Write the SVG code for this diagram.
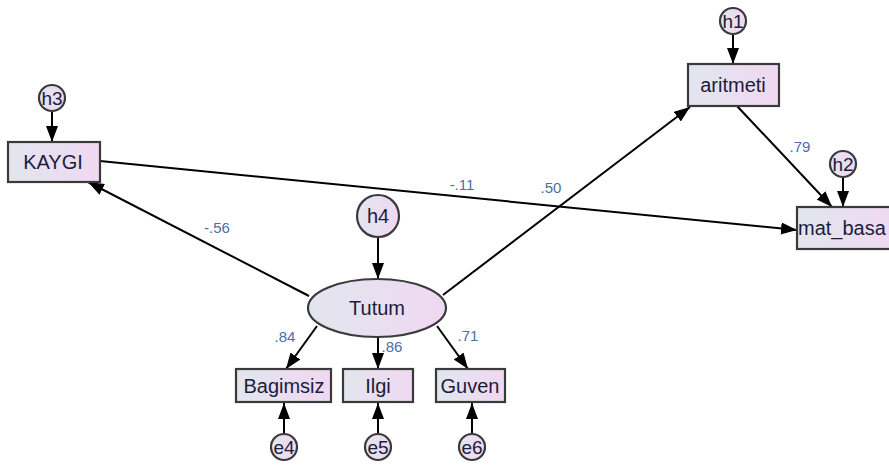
<svg xmlns="http://www.w3.org/2000/svg" width="889" height="466" viewBox="0 0 889 466">
<defs>
<linearGradient id="g" x1="0" y1="0" x2="1" y2="0">
<stop offset="0" stop-color="#e2e6ee"/>
<stop offset="1" stop-color="#f0d8f2"/>
</linearGradient>
<marker id="ah" markerUnits="userSpaceOnUse" markerWidth="18" markerHeight="14" refX="16" refY="6" orient="auto">
<path d="M0,0 L16,6 L0,12 Z" fill="#000"/>
</marker>
<style>
.n{fill:url(#g);stroke:#3a3a3a;stroke-width:2.2}
.t{font-family:"Liberation Sans",Arial,sans-serif;font-size:20px;fill:#1c1c3c;text-anchor:middle;dominant-baseline:central}
.s{font-family:"Liberation Sans",Arial,sans-serif;font-size:19px;fill:#1c1c3c;text-anchor:middle;dominant-baseline:central}
.c{fill:none;stroke:#000;stroke-width:2;marker-end:url(#ah)}
.l{font-family:"Liberation Sans",Arial,sans-serif;font-size:15px;fill:#4a6fa5;text-anchor:middle;dominant-baseline:central}
</style>
</defs>
<rect width="889" height="466" fill="#fff"/>
<g id="labels">
<text class="l" x="217" y="227">-.56</text>
<text class="l" x="462" y="184">-.11</text>
<text class="l" x="551" y="187">.50</text>
<text class="l" x="800" y="146">.79</text>
<text class="l" x="285" y="336">.84</text>
<text class="l" x="392" y="346">.86</text>
<text class="l" x="468" y="335">.71</text>
</g>
<g id="connectors">
<line class="c" x1="52" y1="112" x2="52" y2="142"/>
<line class="c" x1="733" y1="35" x2="733" y2="64"/>
<line class="c" x1="843" y1="178" x2="843" y2="207"/>
<line class="c" x1="378" y1="237" x2="378" y2="279"/>
<line class="c" x1="100" y1="161" x2="797" y2="230"/>
<line class="c" x1="737" y1="106" x2="832" y2="207"/>
<line class="c" x1="309" y1="296" x2="88" y2="182"/>
<line class="c" x1="443" y1="295" x2="690" y2="107"/>
<line class="c" x1="317" y1="326" x2="286" y2="369"/>
<line class="c" x1="378" y1="337" x2="378" y2="369"/>
<line class="c" x1="437" y1="326" x2="468" y2="369"/>
<line class="c" x1="284" y1="433" x2="284" y2="403"/>
<line class="c" x1="378" y1="433" x2="378" y2="403"/>
<line class="c" x1="472" y1="433" x2="472" y2="403"/>
</g>
<g id="h3"><circle class="n" cx="52" cy="98" r="13"/><text class="s" x="52" y="98">h3</text></g>
<g id="KAYGI"><rect class="n" x="8" y="142" width="92" height="40"/><text class="t" x="53" y="162">KAYGI</text></g>
<g id="h1"><circle class="n" cx="733" cy="21" r="13"/><text class="s" x="733" y="21">h1</text></g>
<g id="aritmeti"><rect class="n" x="688" y="64" width="91" height="42"/><text class="t" x="733" y="85">aritmeti</text></g>
<g id="h2"><circle class="n" cx="843" cy="164" r="13"/><text class="s" x="843" y="164">h2</text></g>
<g id="mat_basa"><rect class="n" x="797" y="207" width="100" height="42"/><text class="t" x="798" y="228" style="text-anchor:start">mat_basa</text></g>
<g id="h4"><circle class="n" cx="378" cy="216" r="21"/><text class="t" x="378" y="216">h4</text></g>
<g id="Tutum"><ellipse class="n" cx="377" cy="308" rx="69" ry="29"/><text class="t" x="377" y="308">Tutum</text></g>
<g id="Bagimsiz"><rect class="n" x="236" y="369" width="95" height="33"/><text class="t" x="284" y="386">Bagimsiz</text></g>
<g id="Ilgi"><rect class="n" x="343" y="369" width="70" height="33"/><text class="t" x="378" y="386">Ilgi</text></g>
<g id="Guven"><rect class="n" x="436" y="369" width="69" height="33"/><text class="t" x="470" y="386">Guven</text></g>
<g id="e4"><circle class="n" cx="284" cy="447" r="13"/><text class="s" x="284" y="447">e4</text></g>
<g id="e5"><circle class="n" cx="378" cy="447" r="13"/><text class="s" x="378" y="447">e5</text></g>
<g id="e6"><circle class="n" cx="472" cy="447" r="13"/><text class="s" x="472" y="447">e6</text></g>
</svg>
